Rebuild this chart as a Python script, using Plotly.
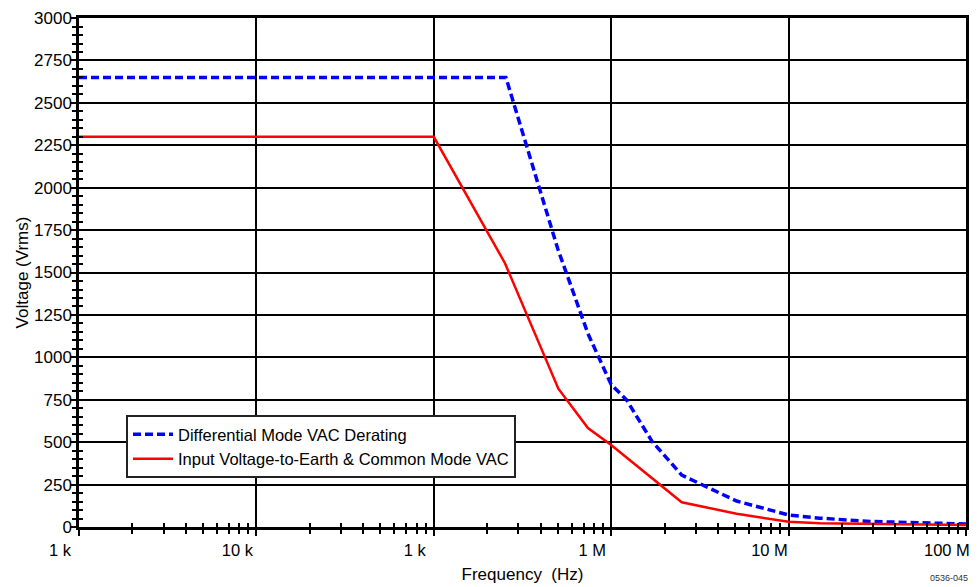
import plotly.graph_objects as go

# Frequency (Hz) / voltage (Vrms) pairs
diff_freq = [1e3, 2.55e5, 5.0e5, 7.4e5, 1.0e6, 1.22e6, 1.7e6, 2.5e6, 5.1e6, 1.0e7, 1.5e7, 3.0e7, 1.0e8]
diff_volt = [2650, 2650, 1640, 1140, 840, 750, 505, 306, 153, 71, 52, 32, 18]

cm_freq = [1e3, 1.0e5, 2.52e5, 5.04e5, 7.4e5, 1.0e6, 2.5e6, 5.1e6, 1.0e7, 1.5e7, 1.0e8]
cm_volt = [2300, 2300, 1555, 815, 583, 483, 146, 78, 31, 22, 12]

x_tickvals = [1e3, 1e4, 1e5, 1e6, 1e7, 1e8]
x_ticktext = ["1 k", "10 k", "1 k", "1 M", "10 M", "100 M"]
x_minor = [m * 10 ** d for d in range(3, 8) for m in range(2, 10)]
y_tickvals = list(range(0, 3001, 250))

FONT = "Liberation Sans, Arial, sans-serif"

fig = go.Figure()
fig.add_trace(
    go.Scatter(
        x=diff_freq,
        y=diff_volt,
        mode="lines",
        name="Differential Mode VAC Derating",
        line=dict(color="#0000ff", width=3.5, dash="8px,4px"),
    )
)
fig.add_trace(
    go.Scatter(
        x=cm_freq,
        y=cm_volt,
        mode="lines",
        name="Input Voltage-to-Earth & Common Mode VAC",
        line=dict(color="#ff0000", width=2.5),
    )
)
# invisible trace so the overlay axes (inside ticks) get drawn
fig.add_trace(
    go.Scatter(
        x=[diff_freq[0]],
        y=[diff_volt[0]],
        xaxis="x2",
        yaxis="y2",
        mode="markers",
        marker=dict(opacity=0),
        showlegend=False,
        hoverinfo="skip",
    )
)

common_x = dict(type="log", range=[3, 8.0005], tickmode="array", tickvals=x_tickvals, automargin=False)
common_y = dict(range=[0, 3000.5], tickmode="array", tickvals=y_tickvals, automargin=False)

# page has an 8px body margin, so the figure is sized to fit the window
fig.update_layout(
    width=971,
    height=579,
    margin=dict(l=71, r=13, t=10, b=60),
    paper_bgcolor="white",
    plot_bgcolor="white",
    font=dict(family=FONT, size=16, color="black"),
    xaxis=dict(
        **common_x,
        ticktext=x_ticktext,
        showgrid=True,
        gridcolor="black",
        gridwidth=2,
        showline=True,
        linecolor="black",
        linewidth=2.5,
        mirror=True,
        ticks="outside",
        ticklen=6,
        tickwidth=2,
        tickcolor="black",
        tickfont=dict(size=16.5),
        ticklabelshift=-19,
        ticklabeloverflow="allow",
        minor=dict(tickmode="array", tickvals=x_minor, ticks="outside", ticklen=4, tickwidth=2, tickcolor="black", showgrid=False),
        title=dict(text="Frequency  (Hz)", font=dict(size=17), standoff=11),
        zeroline=False,
    ),
    yaxis=dict(
        **common_y,
        showgrid=True,
        gridcolor="black",
        gridwidth=2,
        showline=True,
        linecolor="black",
        linewidth=2.5,
        mirror=True,
        ticks="outside",
        ticklen=6,
        tickwidth=2,
        tickcolor="black",
        tickfont=dict(size=17),
        ticklabelstandoff=-5,
        minor=dict(dtick=50, ticks="outside", ticklen=4, tickwidth=2, tickcolor="black", showgrid=False),
        title=dict(text="Voltage (Vrms)", font=dict(size=17), standoff=2),
        zeroline=False,
    ),
    xaxis2=dict(
        **common_x,
        overlaying="x",
        anchor="y2",
        side="bottom",
        showticklabels=False,
        showgrid=False,
        ticks="inside",
        ticklen=4,
        tickwidth=2,
        tickcolor="black",
        minor=dict(tickmode="array", tickvals=x_minor, ticks="inside", ticklen=4, tickwidth=2, tickcolor="black", showgrid=False),
        zeroline=False,
    ),
    yaxis2=dict(
        **common_y,
        overlaying="y",
        anchor="x2",
        side="left",
        showticklabels=False,
        showgrid=False,
        ticks="inside",
        ticklen=4,
        tickwidth=2,
        tickcolor="black",
        minor=dict(dtick=50, ticks="inside", ticklen=4, tickwidth=2, tickcolor="black", showgrid=False),
        zeroline=False,
    ),
    legend=dict(
        x=0.053,
        y=0.22,
        xanchor="left",
        yanchor="top",
        bgcolor="white",
        bordercolor="#222222",
        borderwidth=2,
        font=dict(size=16.5),
        tracegroupgap=0,
        itemwidth=40,
    ),
    showlegend=True,
)

fig.add_annotation(
    text="0536-045",
    xref="paper",
    yref="paper",
    x=1.005,
    y=-0.1,
    xanchor="right",
    yanchor="middle",
    showarrow=False,
    font=dict(size=9, color="#333333"),
)

fig.write_html("out.html")
